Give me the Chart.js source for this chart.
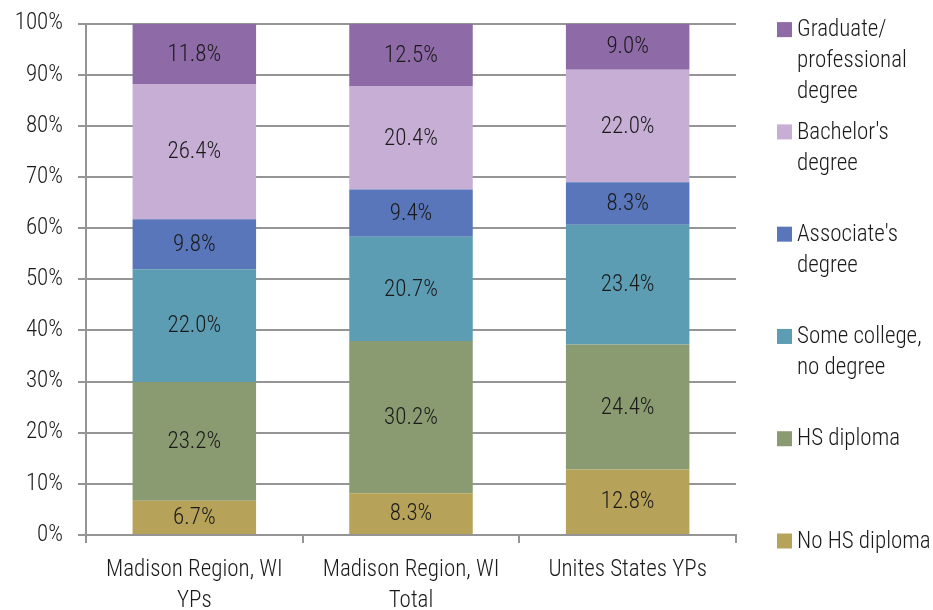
<!DOCTYPE html>
<html>
<head>
<meta charset="utf-8">
<script src="https://cdn.jsdelivr.net/npm/chart.js@4.4.1/dist/chart.umd.min.js"></script>
<style>
  html, body { margin: 0; padding: 0; background: #fff; }
  #wrap { width: 933px; height: 610px; position: relative; }
</style>
</head>
<body>
<div id="wrap"><canvas id="eduChart"></canvas></div>
<script>
/* Data */
const categories = [
  ['Madison Region, WI', 'YPs'],
  ['Madison Region, WI', 'Total'],
  'Unites States YPs'
];
const noHsDiploma = [6.7, 8.3, 12.8];
const hsDiploma = [23.2, 30.2, 24.4];
const someCollege = [22.0, 20.7, 23.4];
const associates = [9.8, 9.4, 8.3];
const bachelors = [26.4, 20.4, 22.0];
const graduate = [11.8, 12.5, 9.0];
const yTicks = [0, 10, 20, 30, 40, 50, 60, 70, 80, 90, 100];

const seriesNames = [
  'No HS diploma',
  ['HS diploma'],
  ['Some college,', 'no degree'],
  ["Associate's", 'degree'],
  ["Bachelor's", 'degree'],
  ['Graduate/', 'professional', 'degree']
];
const seriesColors = ['#b7a25a', '#8a9a71', '#5c9db3', '#5876b9', '#c6aed5', '#8e6aa6'];
const seriesValues = [noHsDiploma, hsDiploma, someCollege, associates, bachelors, graduate];

const FONT = '"Roboto Condensed", "DejaVu Sans Condensed", sans-serif';
const FSIZE = 23;
const TEXT = '#1a1a1a';
const GRID = '#959595';

/* 100% stacked: each column scaled to its own total */
const totals = categories.map((_, i) => seriesValues.reduce((s, arr) => s + arr[i], 0));

const datasets = seriesValues.map((vals, k) => ({
  label: [].concat(seriesNames[k]).join(' '),
  data: vals.map((v, i) => v / totals[i] * 100),
  raw: vals,
  backgroundColor: seriesColors[k],
  borderWidth: 0,
  barPercentage: 0.57,
  categoryPercentage: 1
}));

/* value labels in the middle of each segment */
const valueLabels = {
  id: 'valueLabels',
  afterDatasetsDraw(chart) {
    const ctx = chart.ctx;
    ctx.save();
    ctx.font = '300 ' + FSIZE + 'px ' + FONT;
    ctx.fillStyle = TEXT;
    ctx.textAlign = 'center';
    ctx.textBaseline = 'middle';
    chart.data.datasets.forEach((ds, k) => {
      chart.getDatasetMeta(k).data.forEach((bar, i) => {
        const mid = (bar.y + bar.base) / 2;
        ctx.fillText(ds.raw[i].toFixed(1) + '%', bar.x, mid + 1);
      });
    });
    ctx.restore();
  }
};

/* legend on the right, top entry = last series */
const sideLegend = {
  id: 'sideLegend',
  afterDraw(chart) {
    const ctx = chart.ctx;
    const area = chart.chartArea;
    const n = seriesNames.length;
    const step = (area.bottom - area.top) / (n - 1);
    const sqX = area.right + 41, sq = 15, txtX = area.right + 61, lineH = 31;
    ctx.save();
    ctx.font = '300 ' + FSIZE + 'px ' + FONT;
    ctx.textAlign = 'left';
    ctx.textBaseline = 'middle';
    for (let j = 0; j < n; j++) {
      const k = n - 1 - j;
      const y = area.top + 6 + j * step;
      ctx.fillStyle = seriesColors[k];
      ctx.fillRect(sqX, y - sq / 2, sq, sq);
      ctx.fillStyle = TEXT;
      [].concat(seriesNames[k]).forEach((line, li) => ctx.fillText(line, txtX, y + 1 + li * lineH));
    }
    ctx.restore();
  }
};

new Chart(document.getElementById('eduChart'), {
  type: 'bar',
  data: { labels: categories, datasets },
  options: {
    responsive: true,
    maintainAspectRatio: false,
    animation: false,
    layout: { padding: { top: 0, right: 197, bottom: 0, left: 0 } },
    plugins: { legend: { display: false }, tooltip: { enabled: false } },
    scales: {
      x: {
        stacked: true,
        grid: { display: true, drawOnChartArea: false, offset: true, color: GRID, lineWidth: 2, tickLength: 8 },
        border: { color: GRID, width: 2 },
        ticks: { color: TEXT, font: { family: FONT, size: FSIZE, weight: 300, lineHeight: 1.35 }, padding: 12, maxRotation: 0 },
        afterFit(scale) { scale.height = 75; }
      },
      y: {
        stacked: true,
        min: 0,
        max: 100,
        afterBuildTicks(scale) { scale.ticks = yTicks.map(v => ({ value: v })); },
        grid: { color: GRID, lineWidth: 2, tickLength: 8 },
        border: { color: GRID, width: 2 },
        ticks: { color: TEXT, font: { family: FONT, size: FSIZE, weight: 300, lineHeight: 0.75 }, padding: 15, callback: v => v + '%' },
        afterFit(scale) { scale.width = 86; }
      }
    }
  },
  plugins: [valueLabels, sideLegend]
});
</script>
</body>
</html>
